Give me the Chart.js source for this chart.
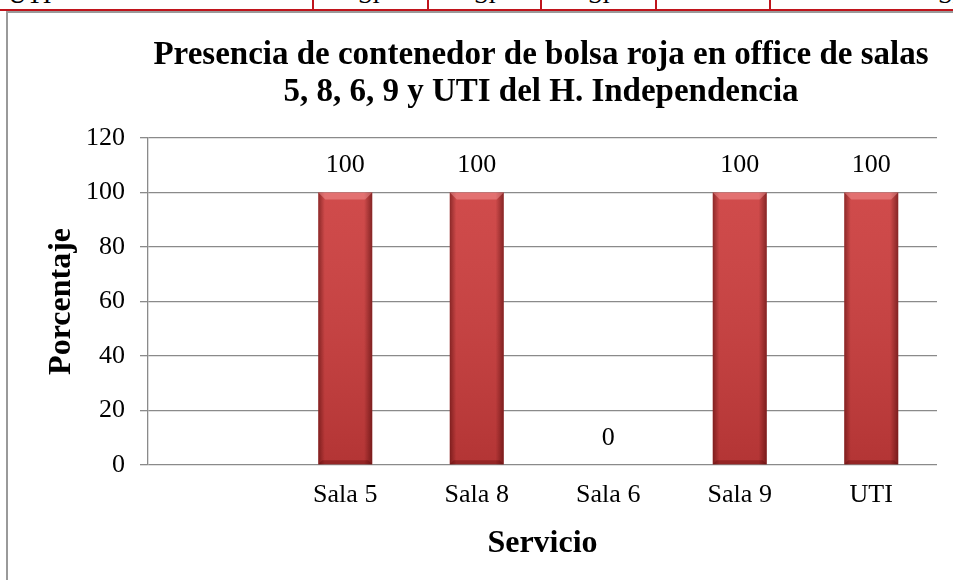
<!DOCTYPE html>
<html lang="es">
<head>
    <meta charset="UTF-8">
    <title>Presencia de contenedor de bolsa roja</title>
    <script src="https://cdn.jsdelivr.net/npm/chart.js"></script>
    <style>
        html, body { margin: 0; padding: 0; background: #fff; overflow: hidden; }
        body { width: 953px; height: 580px; position: relative; font-family: "Liberation Serif", serif; }
        #strip { position: absolute; left: 0; top: 0; width: 953px; height: 9px; overflow: hidden; border-bottom: 2px solid #c0141c; }
        #strip span { position: absolute; top: -18px; font-size: 26px; line-height: 26px; }
        .vl { position: absolute; top: 0; width: 2px; height: 10px; background: #c0141c; }
        #frame { position: absolute; left: 6px; top: 11px; width: 1000px; height: 600px; border-left: 2px solid #9a9a9a; border-top: 2px solid #9a9a9a; }
        #wrap { position: absolute; left: 8px; top: 13px; width: 1066px; height: 567px; }
    </style>
</head>
<body>
    <!-- trozo de la tabla de arriba -->
    <div id="strip">
        <span style="left:8px">UTI</span>
        <span style="left:358px">Sí</span>
        <span style="left:474px">Sí</span>
        <span style="left:588px">Sí</span>
        <span style="left:938px">Sí</span>
    </div>
    <div class="vl" style="left:312px"></div>
    <div class="vl" style="left:427px"></div>
    <div class="vl" style="left:540px"></div>
    <div class="vl" style="left:655px"></div>
    <div class="vl" style="left:769px"></div>
    <div id="frame"></div>

    <div id="wrap">
        <canvas id="myChart" width="1066" height="567"></canvas>
    </div>
    <script>
        // datos
        const servicios = ['', 'Sala 5', 'Sala 8', 'Sala 6', 'Sala 9', 'UTI'];
        const porcentaje = [null, 100, 100, 0, 100, 100];
        const yTicks = [0, 20, 40, 60, 80, 100, 120];

        const serif = '"Liberation Serif", "Times New Roman", serif';

        // sombreado de las barras (bisel tipo Excel)
        const bevel = {
            id: 'bevel',
            afterDatasetsDraw(chart) {
                const ctx = chart.ctx;
                const meta = chart.getDatasetMeta(0);
                meta.data.forEach((bar, i) => {
                    if (!porcentaje[i]) return;
                    const w = bar.width;
                    const x0 = bar.x - w / 2;
                    const top = bar.y;
                    const base = bar.base;
                    const h = base - top;
                    ctx.save();
                    // vertical: mas claro arriba, mas oscuro abajo
                    let g = ctx.createLinearGradient(0, top, 0, base);
                    g.addColorStop(0, 'rgba(255,255,255,0.08)');
                    g.addColorStop(1, 'rgba(0,0,0,0.12)');
                    ctx.fillStyle = g;
                    ctx.fillRect(x0, top, w, h);
                    // horizontal: bordes oscuros
                    g = ctx.createLinearGradient(x0, 0, x0 + w, 0);
                    g.addColorStop(0, 'rgba(60,0,0,0.45)');
                    g.addColorStop(0.12, 'rgba(60,0,0,0.0)');
                    g.addColorStop(0.85, 'rgba(60,0,0,0.0)');
                    g.addColorStop(1, 'rgba(60,0,0,0.5)');
                    ctx.fillStyle = g;
                    ctx.fillRect(x0, top, w, h);
                    // bisel superior
                    ctx.beginPath();
                    ctx.moveTo(x0, top);
                    ctx.lineTo(x0 + w, top);
                    ctx.lineTo(x0 + w - 7, top + 7);
                    ctx.lineTo(x0 + 7, top + 7);
                    ctx.closePath();
                    ctx.fillStyle = 'rgba(255,170,170,0.4)';
                    ctx.fill();
                    // bisel inferior
                    ctx.beginPath();
                    ctx.moveTo(x0, base);
                    ctx.lineTo(x0 + w, base);
                    ctx.lineTo(x0 + w - 4, base - 4);
                    ctx.lineTo(x0 + 4, base - 4);
                    ctx.closePath();
                    ctx.fillStyle = 'rgba(80,0,0,0.3)';
                    ctx.fill();
                    ctx.restore();
                });
            },
            afterDraw(chart) {
                // etiquetas de valor
                const ctx = chart.ctx;
                const meta = chart.getDatasetMeta(0);
                ctx.save();
                ctx.font = '26px ' + serif;
                ctx.fillStyle = '#000';
                ctx.textAlign = 'center';
                ctx.textBaseline = 'middle';
                meta.data.forEach((bar, i) => {
                    if (porcentaje[i] === null) return;
                    ctx.fillText(String(porcentaje[i]), bar.x, bar.y - 27);
                });
                ctx.restore();
            }
        };

        const ctx = document.getElementById('myChart').getContext('2d');
        const myChart = new Chart(ctx, {
            type: 'bar',
            data: {
                labels: servicios,
                datasets: [
                    {
                        label: 'Porcentaje',
                        data: porcentaje,
                        backgroundColor: '#cc3c3c',
                        borderWidth: 0,
                        barPercentage: 0.41,
                        categoryPercentage: 1,
                    },
                ],
            },
            plugins: [bevel],
            options: {
                responsive: false,
                animation: false,
                layout: { padding: 0 },
                plugins: {
                    legend: { display: false },
                    tooltip: { enabled: false },
                    title: {
                        display: true,
                        text: ['Presencia de contenedor de bolsa roja en office de salas',
                               '5, 8, 6, 9 y UTI del H. Independencia'],
                        color: '#000',
                        font: { family: serif, size: 33, weight: 'bold', lineHeight: 1.15 },
                        padding: { top: 23, bottom: 26 },
                    },
                },
                scales: {
                    x: {
                        afterFit(scale) { scale.height = 115; },
                        grid: { display: false, drawTicks: false },
                        border: { display: false },
                        ticks: {
                            color: '#000',
                            font: { family: serif, size: 26 },
                            padding: 15,
                            maxRotation: 0,
                        },
                        title: {
                            display: true,
                            text: 'Servicio',
                            color: '#000',
                            font: { family: serif, size: 32, weight: 'bold' },
                            padding: { top: 0, bottom: 17 },
                        },
                    },
                    y: {
                        min: 0,
                        max: 120,
                        afterFit(scale) { scale.width = 140; },
                        afterBuildTicks(scale) { scale.ticks = yTicks.map(v => ({ value: v })); },
                        grid: { color: '#8a8a8a', lineWidth: 1.3, tickLength: 8 },
                        border: { display: true, color: '#8a8a8a', width: 1.3 },
                        ticks: {
                            color: '#000',
                            font: { family: serif, size: 26 },
                            padding: 15,
                        },
                        title: {
                            display: true,
                            text: 'Porcentaje',
                            color: '#000',
                            font: { family: serif, size: 32, weight: 'bold' },
                            padding: { top: 35, bottom: 0 },
                        },
                    },
                    // eje vacio a la derecha: solo reserva el margen del area de grafico
                    margen: {
                        type: 'linear',
                        position: 'right',
                        afterFit(scale) { scale.width = 137; },
                        grid: { display: false, drawTicks: false },
                        border: { display: false },
                        ticks: { display: false },
                    },
                },
            },
        });
    </script>
</body>
</html>
